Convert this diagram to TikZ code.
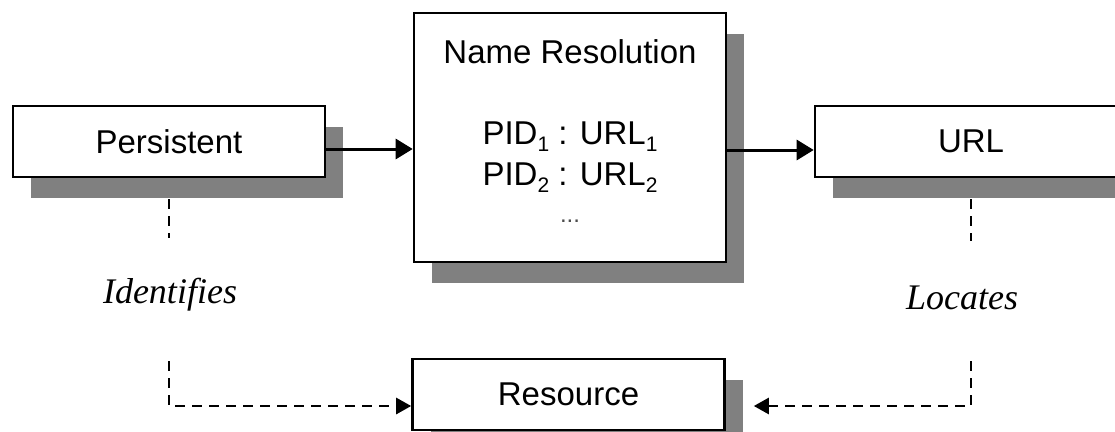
\documentclass[tikz,border=0pt]{standalone}
\usepackage{fontspec}
\setmainfont{Liberation Sans}
\newfontfamily\serifit{Liberation Serif}
\usetikzlibrary{arrows.meta,shadows}
\definecolor{shade}{RGB}{128,128,128}
\newcommand\subs[1]{\raisebox{-7pt}{\fontsize{21pt}{21pt}\selectfont #1}}
\begin{document}
\begin{tikzpicture}[x=1pt,y=-1pt,
  box/.style={draw=black,line width=2.6pt,fill=white,minimum width=312pt,minimum height=71pt,inner sep=0pt,
    drop shadow={shadow xshift=18pt,shadow yshift=-21pt,fill=shade,opacity=1},
    font=\fontsize{33pt}{40pt}\selectfont},
  txt/.style={inner sep=0pt,font=\fontsize{33pt}{40pt}\selectfont},
  lbl/.style={inner sep=0pt,anchor=base,font=\serifit\itshape\fontsize{36pt}{40pt}\selectfont},
  arr/.style={line width=3pt,-{Triangle[length=17pt,width=20pt]}},
  dsh/.style={line width=2.6pt,dash pattern=on 10pt off 7pt},
  darr/.style={-{Triangle[length=15pt,width=16pt]}}
]
\clip (0,0) rectangle (1115,431);
\node[box] (pers) at (169,141.5) {Persistent};
\node[box,minimum height=249pt] (nr) at (570,137.5) {};
\node[box] (url) at (971,141.5) {URL};
\node[box] (res) at (568.5,394.5) {Resource};
\node[txt,anchor=base] (nrt) at (570,63) {Name Resolution};
\node[txt,anchor=base] (p1) at (570,144) {PID\subs{1} : URL\subs{1}};
\node[txt,anchor=base] (p2) at (570,185) {PID\subs{2} : URL\subs{2}};
\node[txt,anchor=base,font=\fontsize{24pt}{30pt}\selectfont,text=black!70] (dots) at (570,222) {...};
\node[lbl] (ident) at (170,303) {Identifies};
\node[lbl] (loc) at (962,309) {Locates};
\coordinate (a1) at ([yshift=-7.5pt]pers.east);
\coordinate (a2) at ([yshift=-12.5pt]nr.east);
\draw[arr] (a1) -- (a1 -| nr.west);
\draw[arr] (a2) -- (a2 -| url.west);
\draw[dsh] ([yshift=-21pt]pers.south) -- ([yshift=-60pt]pers.south);
\draw[dsh,darr] ([yshift=-183pt]pers.south) |- ([yshift=-11.5pt]res.west);
\draw[dsh] ([yshift=-21pt]url.south) -- ([yshift=-63pt]url.south);
\draw[dsh,darr] ([yshift=-183pt]url.south) |- ([xshift=28pt,yshift=-11.5pt]res.east);
\end{tikzpicture}
\end{document}
